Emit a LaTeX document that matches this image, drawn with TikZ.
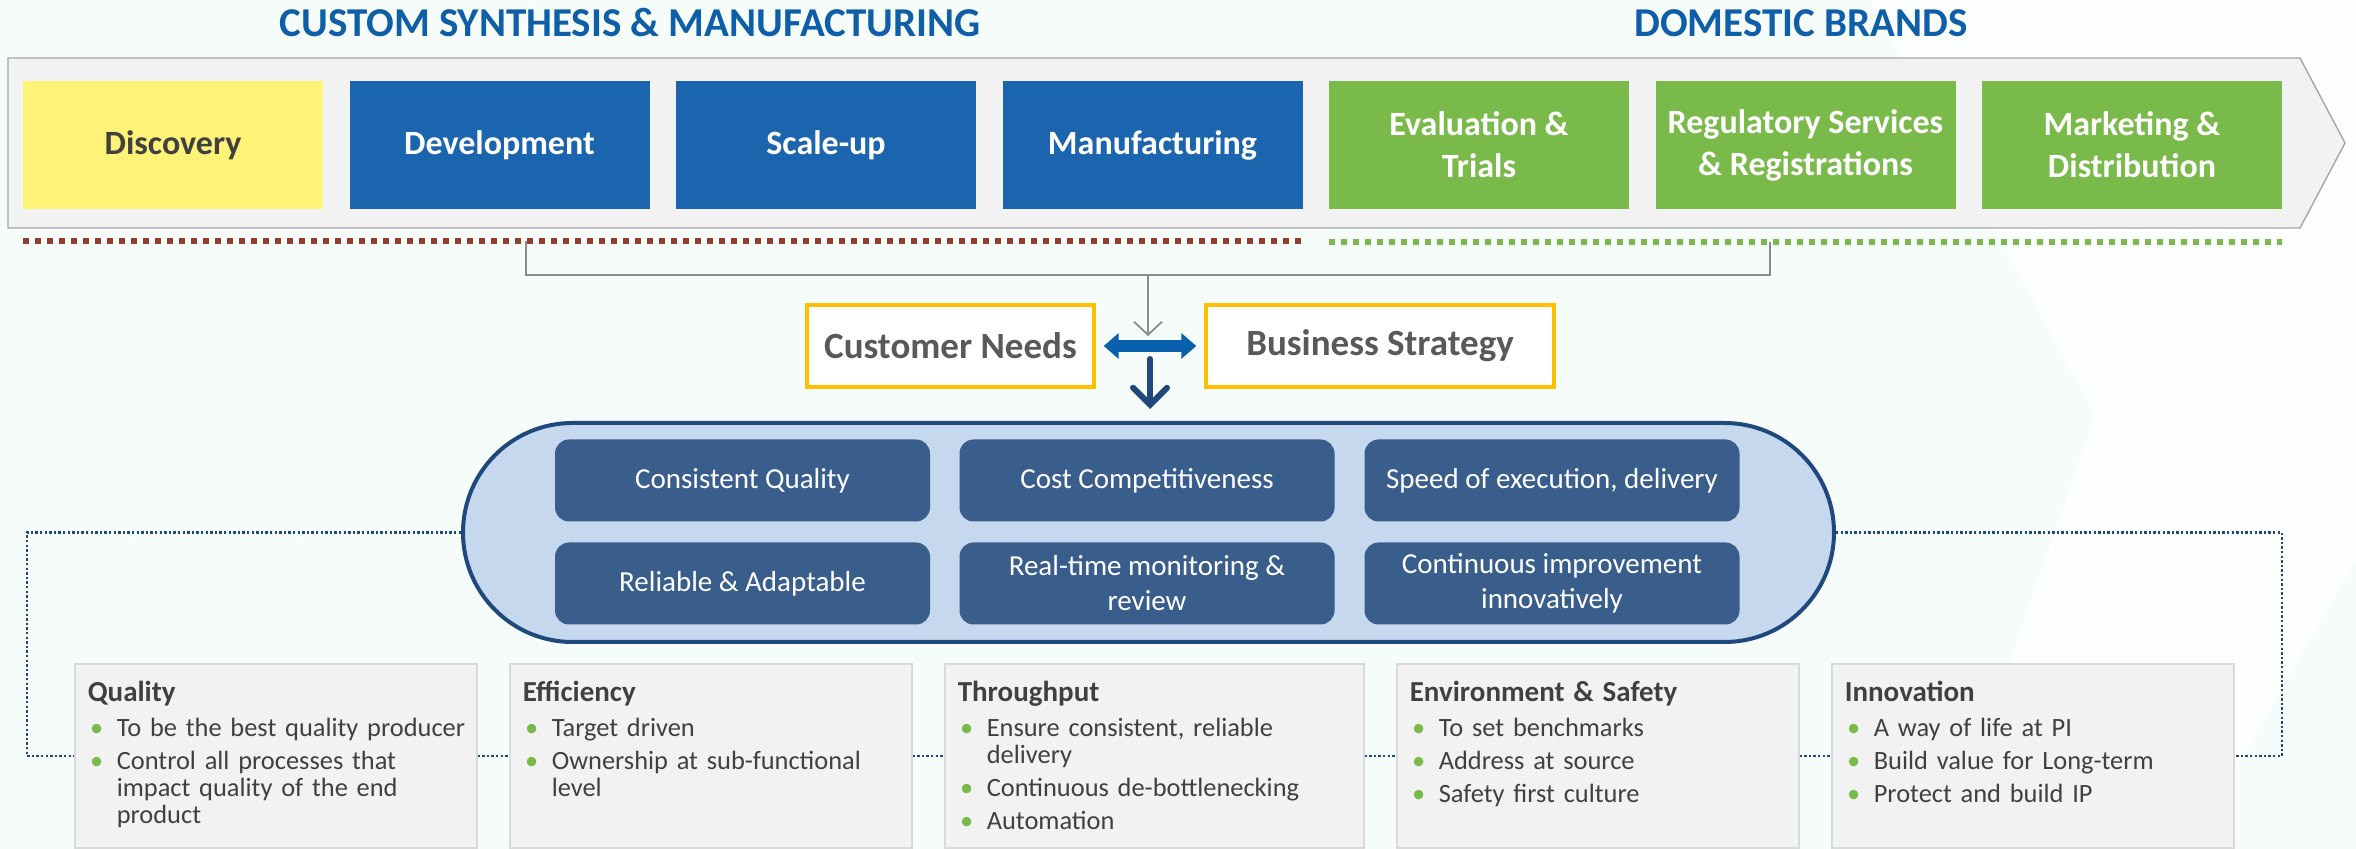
\documentclass[tikz,border=0pt]{standalone}
\usepackage{fontspec}
\setmainfont{Carlito}
\usetikzlibrary{arrows.meta,calc}

\definecolor{bg}{RGB}{246,252,250}
\definecolor{bglight}{RGB}{252,255,254}
\definecolor{titleblue}{RGB}{14,94,168}
\definecolor{stageblue}{RGB}{27,100,174}
\definecolor{stageyellow}{RGB}{254,243,118}
\definecolor{stagegreen}{RGB}{122,186,74}
\definecolor{bandfill}{RGB}{242,242,242}
\definecolor{bandline}{RGB}{166,166,166}
\definecolor{reddot}{RGB}{143,64,46}
\definecolor{bracketgray}{RGB}{140,140,140}
\definecolor{needyellow}{RGB}{255,192,0}
\definecolor{needtext}{RGB}{89,89,89}
\definecolor{arrowblue}{RGB}{8,96,172}
\definecolor{navy}{RGB}{31,73,125}
\definecolor{capsfill}{RGB}{198,216,238}
\definecolor{tileblue}{RGB}{58,94,140}
\definecolor{boxgray}{RGB}{242,242,242}
\definecolor{boxline}{RGB}{217,217,217}
\definecolor{bodytext}{RGB}{64,64,64}
\definecolor{bulletgreen}{RGB}{122,186,74}

\newcommand{\boxhead}[1]{{\fontsize{14.5}{16}\selectfont\bfseries #1\par}\vspace{1pt}}
\newcommand{\bitem}[1]{\par\leftskip=14.5pt\noindent\llap{\makebox[13.3pt][l]{\textcolor{bulletgreen}{\textbullet}}}#1\par}

\begin{document}
\begin{tikzpicture}[x=0.5pt, y=-0.5pt,
    stage/.style={minimum width=150pt, minimum height=64pt, inner sep=0pt, align=center, text=white, font=\fontsize{17}{21}\selectfont\bfseries},
    heading/.style={anchor=base, text=titleblue, font=\fontsize{20.5}{24}\selectfont\bfseries},
    groupline/.style={line width=3pt, dash pattern=on 3pt off 3pt},
    driver/.style={draw=needyellow, line width=1.7pt, fill=white, minimum height=41pt, inner sep=0pt, text=needtext, font=\fontsize{18.5}{22}\selectfont\bfseries},
    tile/.style={fill=tileblue, rounded corners=7pt, minimum width=187.5pt, minimum height=41pt, inner sep=0pt, align=center, text=white, font=\fontsize{14.5}{17.5}\selectfont},
    pillar/.style={fill=boxgray, draw=boxline, line width=0.6pt, minimum height=92pt, inner sep=0pt},
    pillartext/.style={anchor=north west, inner sep=0pt, text width=200pt, align=left, text=bodytext, font=\fontsize{13.2}{13.5}\selectfont\setlength{\parskip}{3pt}},
    link/.style={draw=navy, line width=1.2pt, dash pattern=on 1.2pt off 1.1pt}
]
    \fill[bg] (0,0) rectangle (2356,849);
    \fill[bglight] (1870,0) -- (2095,415) -- (1945,849) -- (2190,849) -- (2356,560) -- (2356,0) -- cycle;
    \useasboundingbox (0,0) rectangle (2356,849);

    \filldraw[fill=bandfill, draw=bandline, line width=0.7pt] (8,58) -- (2300,58) -- (2345,143) -- (2300,228) -- (8,228) -- cycle;

    \node[heading] (csmtitle) at (630,37) {CUSTOM SYNTHESIS \& MANUFACTURING};
    \node[heading] (domtitle) at (1801,37) {DOMESTIC BRANDS};

    \node[stage, fill=stageyellow, text=bodytext] (discovery) at (173,145) {Discovery};
    \node[stage, fill=stageblue] (development) at (499.5,145) {Development};
    \node[stage, fill=stageblue] (scaleup) at (826,145) {Scale-up};
    \node[stage, fill=stageblue] (manufacturing) at (1152.5,145) {Manufacturing};
    \node[stage, fill=stagegreen] (evaluation) at (1479,145) {Evaluation \&\\Trials};
    \node[stage, fill=stagegreen] (regulatory) at (1805.5,145) {Regulatory Services\\\& Registrations};
    \node[stage, fill=stagegreen] (marketing) at (2132,145) {Marketing \&\\Distribution};

    \coordinate (csmL) at ([yshift=-16pt]discovery.south west);
    \coordinate (csmR) at ([yshift=-16pt]manufacturing.south east);
    \coordinate (domL) at ([yshift=-16.5pt]evaluation.south west);
    \coordinate (domR) at ([yshift=-16.5pt]marketing.south east);
    \draw[groupline, reddot] (csmL) -- (csmR);
    \draw[groupline, stagegreen] (domL) -- (domR);

    \node[driver, minimum width=143.5pt] (needs) at (950.5,346) {Customer Needs};
    \node[driver, minimum width=174pt] (strategy) at (1380,346) {Business Strategy};
    \coordinate (hub) at ($(needs.east)!0.5!(strategy.west)$);

    \coordinate (csmtap) at (526,241);
    \coordinate (domtap) at (1770,242);
    \coordinate (join) at (1148,275);
    \draw[bracketgray, line width=0.9pt] (csmtap) |- (join) -| (domtap);
    \draw[bracketgray, line width=0.9pt, -{Straight Barb[width=14pt, length=6.5pt]}, shorten >=5pt] (join) -- (join |- hub);

    \draw[arrowblue, line width=6pt, {Triangle[width=12.5pt, length=7.5pt]}-{Triangle[width=12.5pt, length=7.5pt]}, shorten <=4pt, shorten >=4pt] (needs.east) -- (strategy.west);

    \node[draw=navy, line width=2pt, fill=capsfill, rounded corners=54.75pt, minimum width=685.5pt, minimum height=109.5pt] (caps) at (1148.5,532.5) {};
    \draw[navy, line width=3pt, line cap=round, -{Straight Barb[width=17pt, length=8.5pt, line cap=round]}, shorten >=6pt] ([yshift=-6.5pt]hub) -- (hub |- caps.north);

    \node[tile] (consistent) at (742.5,480.5) {Consistent Quality};
    \node[tile] (cost) at (1147,480.5) {Cost Competitiveness};
    \node[tile] (speed) at (1552,480.5) {Speed of execution, delivery};
    \node[tile] (reliable) at (742.5,583.5) {Reliable \& Adaptable};
    \node[tile] (monitoring) at (1147,583.5) {Real-time monitoring \&\\review};
    \node[tile] (improvement) at (1552,583.5) {Continuous improvement\\innovatively};

    \node[pillar, minimum width=201pt] (pquality) at (276,756) {};
    \node[pillar, minimum width=201pt] (pefficiency) at (711,756) {};
    \node[pillar, minimum width=209.5pt] (pthroughput) at (1154.5,756) {};
    \node[pillar, minimum width=201pt] (psafety) at (1598,756) {};
    \node[pillar, minimum width=201pt] (pinnovation) at (2033,756) {};

    \node[pillartext] (pqualitytext) at ([xshift=6.5pt, yshift=-8.5pt]pquality.north west)
        {\boxhead{Quality}\bitem{To be the best quality producer}\bitem{Control all processes that\newline impact quality of the end\newline product}};
    \node[pillartext] (pefficiencytext) at ([xshift=6.5pt, yshift=-8.5pt]pefficiency.north west)
        {\boxhead{Efficiency}\bitem{Target driven}\bitem{Ownership at sub-functional\newline level}};
    \node[pillartext] (pthroughputtext) at ([xshift=6.5pt, yshift=-8.5pt]pthroughput.north west)
        {\boxhead{Throughput}\bitem{Ensure consistent, reliable\newline delivery}\bitem{Continuous de-bottlenecking}\bitem{Automation}};
    \node[pillartext] (psafetytext) at ([xshift=6.5pt, yshift=-8.5pt]psafety.north west)
        {\boxhead{Environment \& Safety}\bitem{To set benchmarks}\bitem{Address at source}\bitem{Safety first culture}};
    \node[pillartext] (pinnovationtext) at ([xshift=6.5pt, yshift=-8.5pt]pinnovation.north west)
        {\boxhead{Innovation}\bitem{A way of life at PI}\bitem{Build value for Long-term}\bitem{Protect and build IP}};

    \coordinate (lcorner) at (27,532.5);
    \coordinate (rcorner) at (2282,532.5);
    \draw[link] (caps.west) -- (lcorner) |- (pquality.west);
    \draw[link] (pquality.east) -- (pefficiency.west);
    \draw[link] (pefficiency.east) -- (pthroughput.west);
    \draw[link] (pthroughput.east) -- (psafety.west);
    \draw[link] (psafety.east) -- (pinnovation.west);
    \draw[link] (caps.east) -- (rcorner) |- (pinnovation.east);
\end{tikzpicture}
\end{document}
